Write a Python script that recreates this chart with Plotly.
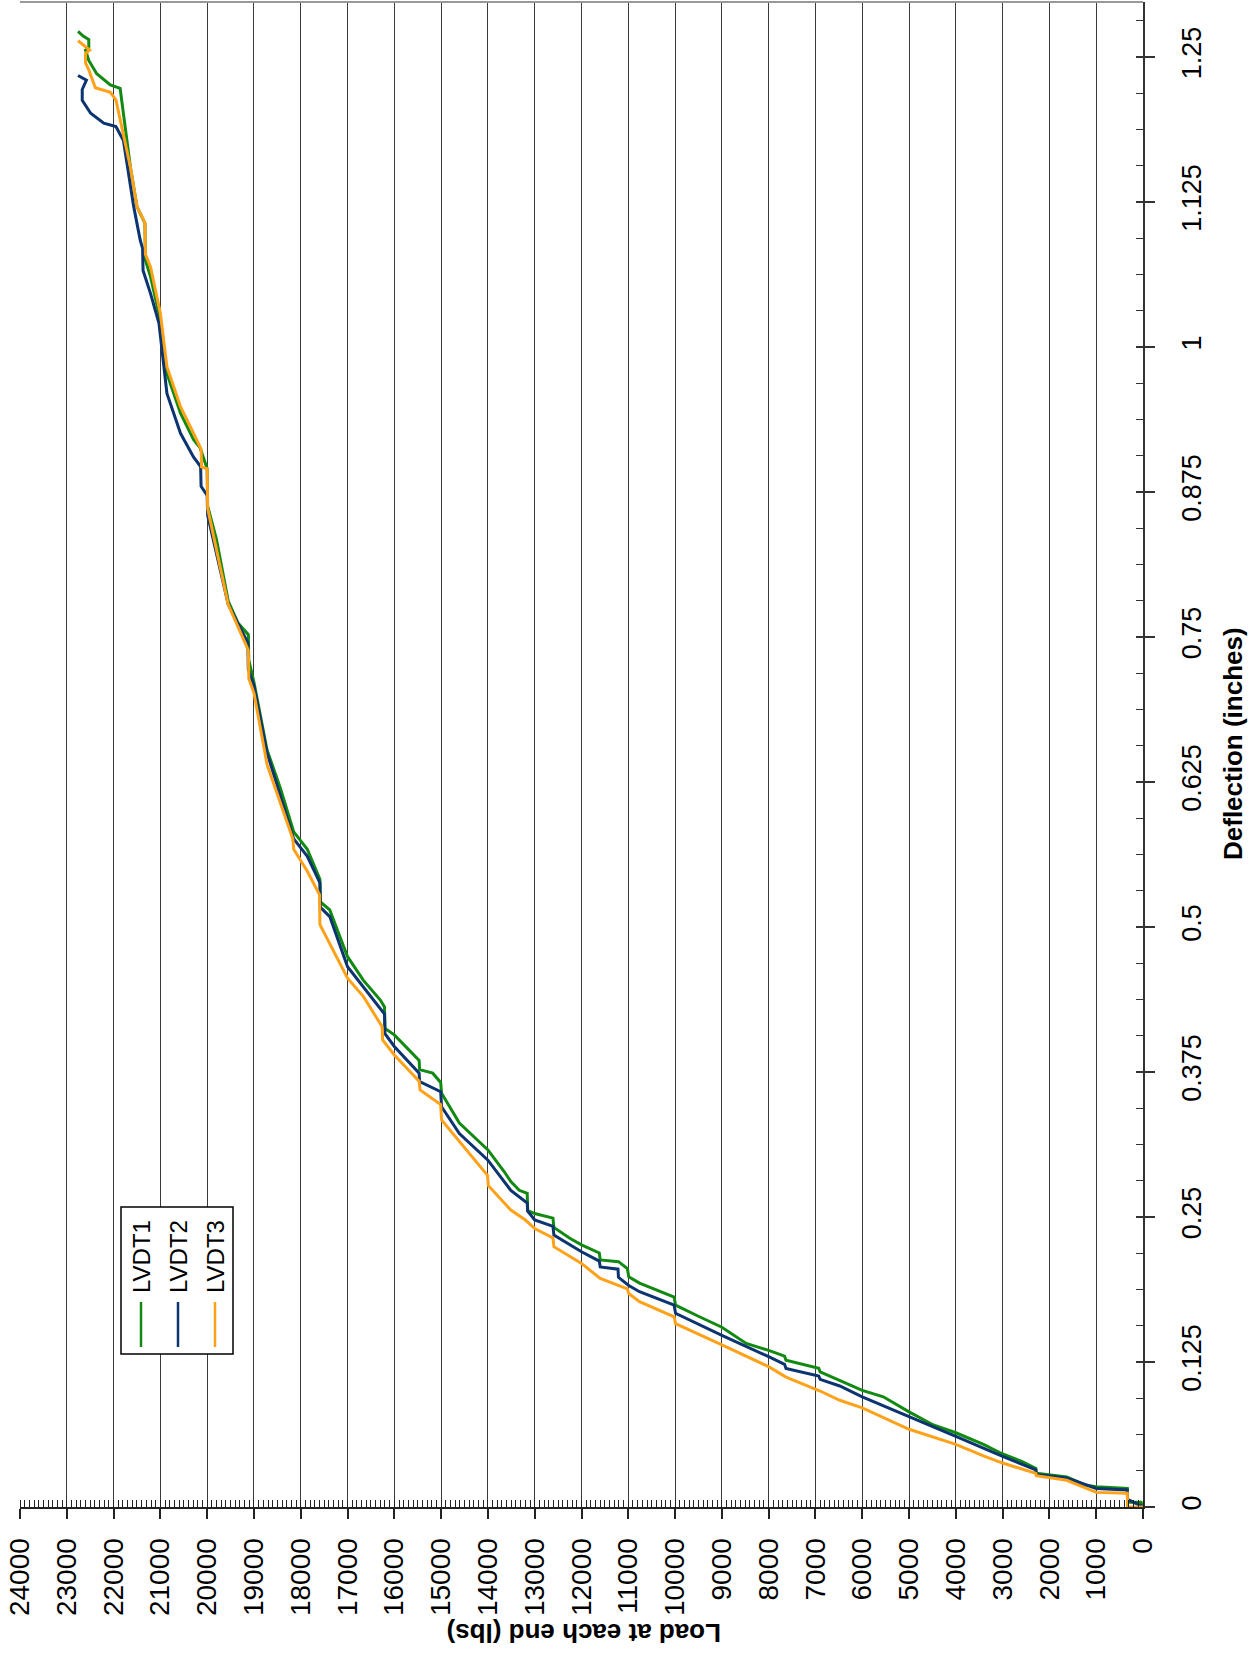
import plotly.graph_objects as go

# ---------------- data ----------------
lvdt1_load = [0, 40, 330, 335, 1000, 1240, 1630, 2000, 2280, 2290, 2570, 3000, 3410, 4000, 4480, 5000,
              5550, 6000, 6520, 6900, 6930, 7630, 7660, 8000, 8480, 9000, 9480, 9990, 10020, 10260,
              10760, 10990, 11020, 11210, 11600, 11620, 12000, 12250, 12590, 12610, 13000, 13150,
              13160, 13330, 13510, 13650, 14000, 14610, 14990, 15010, 15180, 15460, 15470, 16000,
              16200, 16210, 16300, 16660, 17000, 17380, 17580, 17590, 17860, 18150, 18430, 18720,
              19000, 19110, 19120, 19340, 19550, 19800, 19990, 20000, 20150, 20290, 20570, 20860,
              21000, 21210, 21320, 21330, 21500, 21640, 21860, 22070, 22360, 22530, 22600, 22530,
              22530, 22650, 22760]
lvdt1_defl = [0, 0.004, 0.004, 0.016, 0.0175, 0.019, 0.026, 0.0276, 0.029, 0.0333, 0.039, 0.0457,
              0.054, 0.064, 0.0707, 0.082, 0.095, 0.1005, 0.1095, 0.1165, 0.1195, 0.1265, 0.130,
              0.135, 0.141, 0.155, 0.164, 0.174, 0.181, 0.185, 0.193, 0.1985, 0.2055, 0.2115, 0.213,
              0.219, 0.226, 0.2316, 0.241, 0.249, 0.253, 0.2555, 0.2704, 0.273, 0.2805, 0.289,
              0.3078, 0.331, 0.3566, 0.366, 0.374, 0.377, 0.385, 0.407, 0.4126, 0.431, 0.437, 0.454,
              0.4744, 0.5147, 0.5216, 0.541, 0.567, 0.582, 0.619, 0.6526, 0.711, 0.73, 0.752, 0.762,
              0.781, 0.834, 0.863, 0.895, 0.913, 0.92, 0.943, 0.977, 1.023, 1.0606, 1.075, 1.1066,
              1.121, 1.155, 1.223, 1.226, 1.2356, 1.247, 1.256, 1.258, 1.265, 1.268, 1.272]

lvdt2_load = [0, 40, 300, 330, 335, 1000, 1630, 2280, 2290, 3000, 4000, 5000, 6000, 6480, 6900, 6930,
              7630, 7660, 8000, 9000, 9990, 10020, 10760, 10990, 11210, 11220, 11600, 11620, 12000,
              12590, 12610, 13000, 13150, 13160, 13510, 14000, 14610, 14990, 15010, 15460, 15470,
              16000, 16200, 16210, 16660, 17000, 17380, 17580, 17590, 17860, 18150, 18430, 18720,
              19000, 19120, 19130, 19550, 19990, 20000, 20130, 20140, 20290, 20570, 20860, 21030,
              21210, 21370, 21380, 21430, 21570, 21790, 21950, 22210, 22490, 22670, 22670, 22580,
              22760]
lvdt2_defl = [0, 0.001, 0.006, 0.006, 0.0147, 0.016, 0.025, 0.028, 0.032, 0.0437, 0.0609, 0.078,
              0.095, 0.1043, 0.110, 0.113, 0.1195, 0.123, 0.1296, 0.148, 0.167, 0.174, 0.1856, 0.191,
              0.198, 0.205, 0.207, 0.212, 0.22, 0.2345, 0.242, 0.2474, 0.255, 0.262, 0.273, 0.299,
              0.322, 0.345, 0.358, 0.3667, 0.374, 0.397, 0.408, 0.425, 0.4485, 0.4658, 0.509, 0.517,
              0.538, 0.561, 0.576, 0.613, 0.65, 0.708, 0.722, 0.745, 0.778, 0.855, 0.872, 0.88,
              0.897, 0.905, 0.9256, 0.96, 1.0204, 1.046, 1.066, 1.085, 1.092, 1.121, 1.178, 1.19,
              1.193, 1.2015, 1.2126, 1.222, 1.23, 1.234]

lvdt3_load = [0, 330, 335, 1000, 1630, 2280, 2290, 3000, 3410, 4000, 5000, 5550, 6000, 6480, 6900,
              7630, 8000, 9000, 9990, 10020, 10760, 10990, 11020, 11600, 12000, 12590, 12610, 13000,
              13200, 13510, 13990, 14010, 14610, 14990, 15010, 15450, 15470, 16000, 16250, 16260,
              16660, 17000, 17590, 17600, 17860, 18150, 18170, 18430, 18720, 19000, 19110, 19120,
              19550, 19990, 20000, 20120, 20130, 20290, 20570, 20860, 21000, 21210, 21320, 21330,
              21500, 21640, 21950, 22070, 22390, 22530, 22600, 22600, 22510, 22760]
lvdt3_defl = [0, 0, 0.0118, 0.0126, 0.023, 0.027, 0.029, 0.0379, 0.044, 0.054, 0.067, 0.077, 0.0855,
              0.092, 0.100, 0.112, 0.121, 0.1397, 0.158, 0.164, 0.177, 0.184, 0.188, 0.197, 0.21,
              0.2244, 0.232, 0.240, 0.2474, 0.256, 0.277, 0.286, 0.315, 0.3336, 0.347, 0.3595, 0.367,
              0.3897, 0.4026, 0.414, 0.44, 0.4558, 0.502, 0.528, 0.548, 0.567, 0.576, 0.6066, 0.64,
              0.7017, 0.714, 0.7385, 0.778, 0.861, 0.895, 0.8966, 0.912, 0.9256, 0.9485, 0.983,
              1.029, 1.069, 1.08, 1.107, 1.121, 1.155, 1.213, 1.2195, 1.2235, 1.239, 1.245, 1.253,
              1.256, 1.264]

series_names = ["LVDT1", "LVDT2", "LVDT3"]
series_colors = ["#128a12", "#0b3470", "#ffa21a"]

load_ticks = list(range(0, 24001, 1000))
defl_tickvals = [0, 0.125, 0.25, 0.375, 0.5, 0.625, 0.75, 0.875, 1, 1.125, 1.25]
defl_ticktext = ["0", "0.125", "0.25", "0.375", "0.5", "0.625", "0.75", "0.875", "1", "1.125", "1.25"]

# ---------------- figure ----------------
FONT = "Liberation Sans, Arial, sans-serif"
W, H = 1259, 1654
ML, MR, MT, MB = 20, 116, 2, 147
PW, PH = W - ML - MR, H - MT - MB

def px(xpix):
    return (xpix - ML) / PW

def py(ypix):
    return (H - MB - ypix) / PH

fig = go.Figure()
for xs, ys, name, col in zip([lvdt1_load, lvdt2_load, lvdt3_load],
                             [lvdt1_defl, lvdt2_defl, lvdt3_defl],
                             series_names, series_colors):
    fig.add_trace(go.Scatter(x=xs, y=ys, mode="lines", name=name,
                             line=dict(color=col, width=3), showlegend=False))

fig.update_layout(
    width=W, height=H,
    margin=dict(l=ML, r=MR, t=MT, b=MB, pad=0),
    paper_bgcolor="white", plot_bgcolor="white",
    font=dict(family=FONT, color="black"),
    xaxis=dict(
        range=[24000, 0], tickmode="array", tickvals=load_ticks,
        ticktext=[str(v) for v in load_ticks], tickangle=-90,
        tickfont=dict(size=28, family=FONT),
        ticks="outside", ticklen=10, tickwidth=1.5, tickcolor="#222",
        showgrid=True, gridcolor="#3a3a3a", gridwidth=1,
        showline=True, linecolor="#222", linewidth=2,
        zeroline=False, ticklabelstandoff=8, automargin=False,
        minor=dict(dtick=100, tick0=0, ticks="inside", ticklen=7, tickwidth=1.2,
                   tickcolor="#222", showgrid=False),
    ),
    yaxis=dict(
        range=[0, (H - MB - MT) / 1160.0], side="right",
        tickmode="array", tickvals=defl_tickvals, ticktext=defl_ticktext,
        tickangle=-90, tickfont=dict(size=27, family=FONT),
        ticks="outside", ticklen=10, tickwidth=1.5, tickcolor="#333",
        showgrid=False, zeroline=False,
        showline=True, linecolor="#333", linewidth=2,
        ticklabelstandoff=14, automargin=False,
        minor=dict(dtick=0.03125, tick0=0, ticks="inside", ticklen=7, tickwidth=1.2,
                   tickcolor="#333", showgrid=False),
    ),
    yaxis2=dict(
        overlaying="y", side="right", anchor="x", matches="y",
        tickmode="array", tickvals=defl_tickvals, showticklabels=False,
        ticks="inside", ticklen=7, tickwidth=1.5, tickcolor="#333",
        showgrid=False, zeroline=False, showline=False, automargin=False,
    ),
    showlegend=False,
)
# invisible trace so the overlay tick axis is drawn
fig.add_trace(go.Scatter(x=[0], y=[0], yaxis="y2", mode="lines",
                         line=dict(width=0), hoverinfo="skip", showlegend=False))

# top border
fig.add_shape(type="line", xref="paper", yref="paper", x0=0, x1=1, y0=1, y1=1,
              line=dict(color="#999", width=2))

# axis titles
fig.add_annotation(text="<b>Deflection (inches)</b>", xref="paper", yref="paper",
                   x=px(1233), y=py(744), textangle=-90, showarrow=False,
                   xanchor="center", yanchor="middle", font=dict(size=26, family=FONT))
fig.add_annotation(text="<b>Load at each end (lbs)</b>", xref="paper", yref="paper",
                   x=px(584), y=py(1633), textangle=180, showarrow=False,
                   xanchor="center", yanchor="middle", font=dict(size=26, family=FONT))

# legend (drawn manually, rotated)
fig.add_shape(type="rect", xref="paper", yref="paper", x0=px(121), x1=px(233),
              y0=py(1354), y1=py(1207), line=dict(color="black", width=1.5),
              fillcolor="white", layer="above")
for i, (name, col) in enumerate(zip(series_names, series_colors)):
    cx = 141 + i * 37
    fig.add_shape(type="line", xref="paper", yref="paper", x0=px(cx), x1=px(cx),
                  y0=py(1347), y1=py(1302), line=dict(color=col, width=2.5), layer="above")
    fig.add_annotation(text=name, xref="paper", yref="paper", x=px(cx), y=py(1257),
                       textangle=-90, showarrow=False, xanchor="center", yanchor="middle",
                       font=dict(size=24, family=FONT))

fig.write_html("out.html", config={"displayModeBar": False},
               post_script="document.body.style.margin='0px';")
